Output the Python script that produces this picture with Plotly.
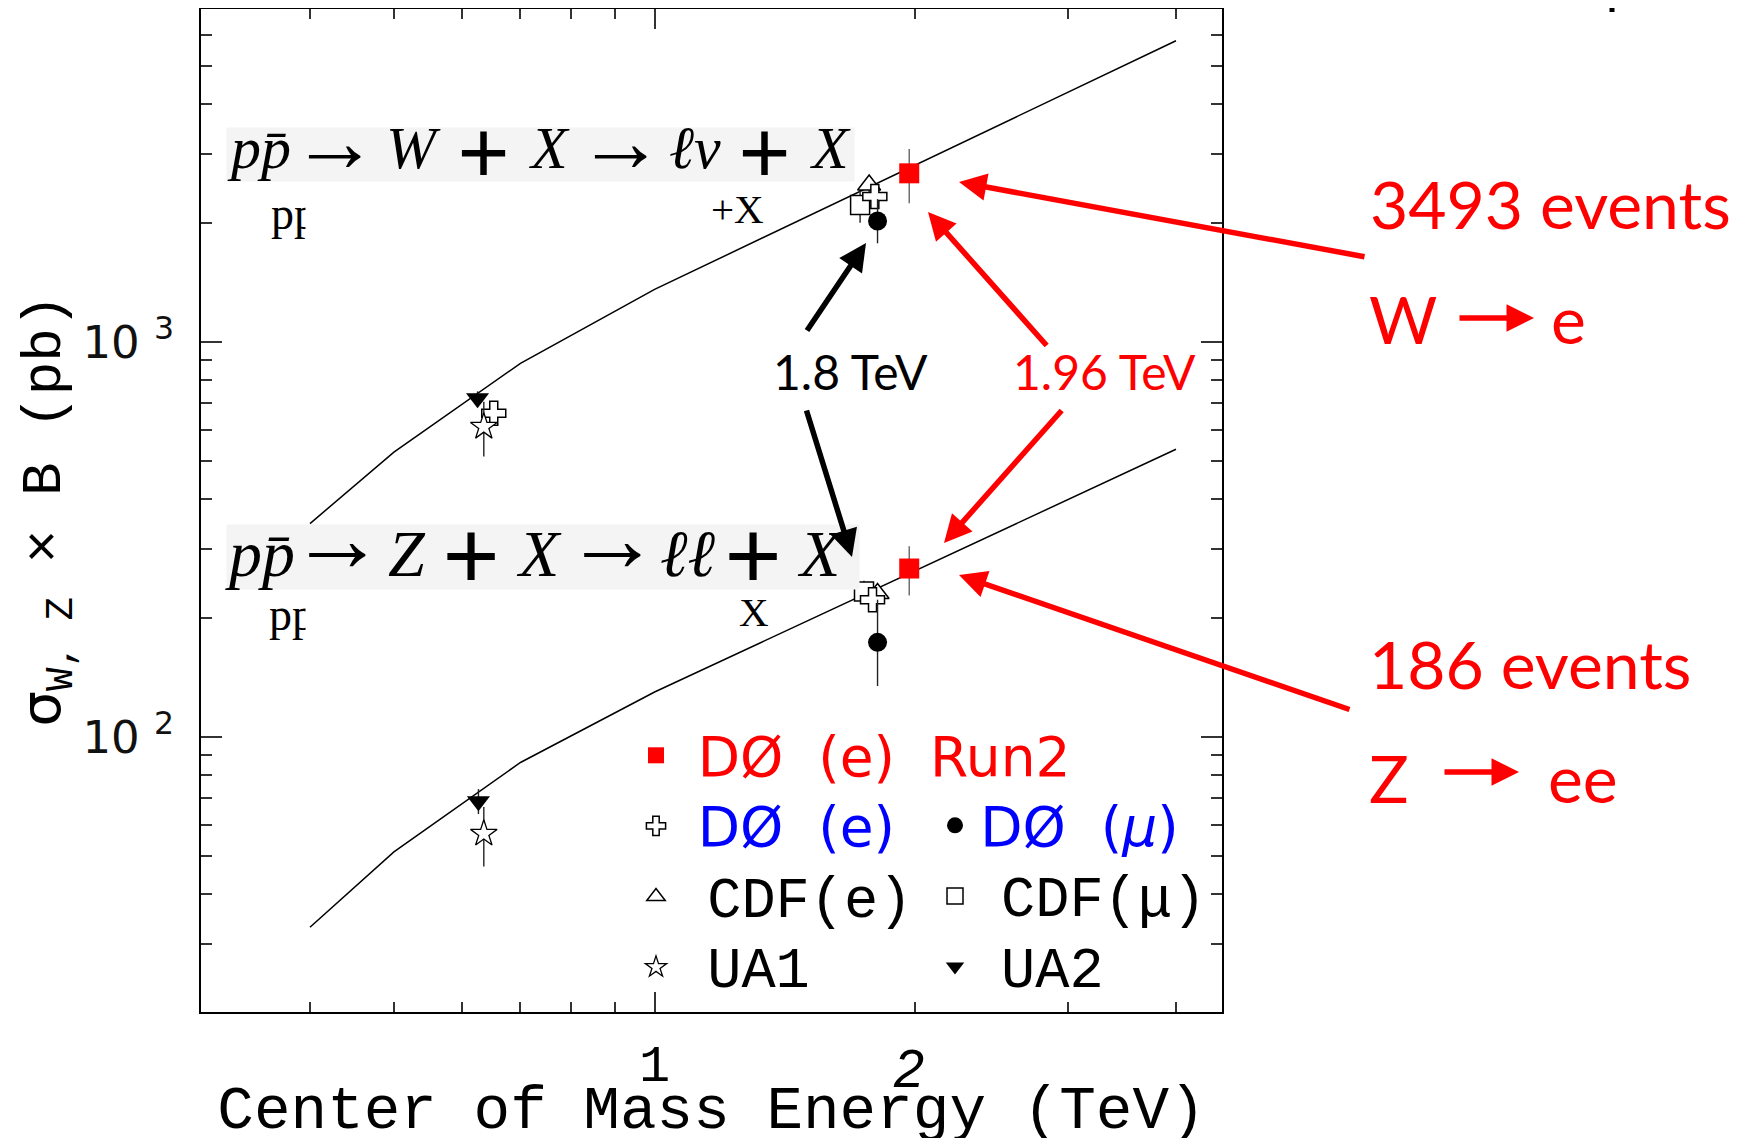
import plotly.graph_objects as go

# ---------------- data ----------------
theory_sqrt_s = [0.4, 0.5, 0.7, 1.0, 4.0]          # TeV
theory_w_pb = [347, 526, 883, 1359, 5790]
theory_z_pb = [33.0, 51.2, 86.2, 130, 535]

# each experiment: W point(s) then Z point
d0_run2_x = [1.968, 1.968]
d0_run2_y = [2673, 267]
d0_run2_up = [409, 37]
d0_run2_dn = [429, 39]

d0_e_x = [0.652, 1.796, 1.785]
d0_e_y = [660, 2334, 222.6]
d0_e_err = [0, 110, 12]

d0_mu_x = [1.809, 1.809]
d0_mu_y = [2024, 173.6]
d0_mu_up = [276, 49]
d0_mu_dn = [246, 39]

cdf_e_x = [1.769, 1.809]
cdf_e_y = [2497, 230.8]
cdf_e_err = [120, 12]

cdf_mu_x = [1.727, 1.745]
cdf_mu_y = [2223, 233.5]
cdf_mu_err = [220, 15]

ua1_x = [0.635, 0.635]
ua1_y = [610, 56.9]
ua1_up = [96, 9.6]
ua1_dn = [97, 9.9]

ua2_x = [0.6245, 0.626]
ua2_y = [720, 68.8]
ua2_err = [30, 5]

x_major = [1]
x_major_text = ["1"]
x_minor = [0.4, 0.5, 0.6, 0.7, 0.8, 0.9, 2, 3, 4]
y_major = [100, 1000]
y_major_text = ["10\u00a0<sup>2</sup>", "10\u00a0<sup>3</sup>"]
y_minor = [30, 40, 50, 60, 70, 80, 90, 200, 300, 400, 500, 600, 700, 800, 900,
           2000, 3000, 4000, 5000, 6000]

# process formula pieces
w_formula = ["<i>pp̄</i>", "→", "<i>W</i>", "+", "<i>X</i>", "→", "<i>ℓν</i>", "+", "<i>X</i>"]
z_formula = ["<i>pp̄</i>", "→", "<i>Z</i>", "+", "<i>X</i>", "→", "<i>ℓℓ</i>", "+", "<i>X</i>"]

# ---------------- layout geometry (screen pixels) ----------------
W, H = 1747, 1138
OFF = 8                      # page body margin
L, R, T, B = 201, 1222, 9, 1012
x_range = [-0.5238, 0.6552]
y_range = [1.3038, 3.8430]


def px(x):
    return (x - L) / (R - L)


def py(y):
    return (B - y) / (B - T)


RED = "#ff0000"
BLUE = "#0000ff"
MONO = "Liberation Mono, Courier New, monospace"
SANS = "DejaVu Sans, sans-serif"
SERIF = "Liberation Serif, DejaVu Serif, serif"
COMIC = "Comic Sans MS, Lato, sans-serif"
NB = "\u00a0"
HAIR = "\u200a"
EN = "\u2002"


def mono(t):
    return "<span style='font-family:Liberation Mono;font-size:57px'>" + t + "</span>"


def sans(t, col):
    return "<span style='color:" + col + ";font-size:55px'>" + t + "</span>"


fig = go.Figure()

# theory curves
for yv in (theory_w_pb, theory_z_pb):
    fig.add_trace(go.Scatter(x=theory_sqrt_s, y=yv, mode="lines",
                             line=dict(color="black", width=1.5),
                             showlegend=False, hoverinfo="skip"))


def err(arr, arrm=None, color="#222"):
    d = dict(type="data", array=arr, thickness=1.4, width=0, color=color, visible=True)
    if arrm is not None:
        d["symmetric"] = False
        d["arrayminus"] = arrm
    return d


fig.add_trace(go.Scatter(
    x=cdf_mu_x, y=cdf_mu_y, mode="markers", error_y=err(cdf_mu_err),
    marker=dict(symbol="square", size=19, color="white", line=dict(color="black", width=1.5)),
    name=EN + mono("CDF(μ)"), legend="legend2", legendrank=2))
fig.add_trace(go.Scatter(
    x=cdf_e_x, y=cdf_e_y, mode="markers", error_y=err(cdf_e_err),
    marker=dict(symbol="triangle-up", size=20, color="white", line=dict(color="black", width=1.5)),
    name=EN + HAIR + mono("CDF(e)"), legend="legend", legendrank=3))
fig.add_trace(go.Scatter(
    x=d0_e_x, y=d0_e_y, mode="markers", error_y=err(d0_e_err),
    marker=dict(symbol="cross", size=20, color="white", line=dict(color="black", width=1.5)),
    name=NB + HAIR + sans("DØ" + NB + NB + "(e)", BLUE), legend="legend", legendrank=2))
fig.add_trace(go.Scatter(
    x=d0_mu_x, y=d0_mu_y, mode="markers", error_y=err(d0_mu_up, d0_mu_dn),
    marker=dict(symbol="circle", size=19, color="black"),
    name=HAIR + sans("DØ" + NB + NB + "(<i>μ</i>)", BLUE), legend="legend2", legendrank=1))
fig.add_trace(go.Scatter(
    x=ua1_x, y=ua1_y, mode="markers", error_y=err(ua1_up, ua1_dn),
    marker=dict(symbol="star", size=20, color="white", line=dict(color="black", width=1.3)),
    name=EN + HAIR + mono("UA1"), legend="legend", legendrank=4))
fig.add_trace(go.Scatter(
    x=ua2_x, y=ua2_y, mode="markers", error_y=err(ua2_err),
    marker=dict(symbol="triangle-down", size=20, color="black"),
    name=EN + mono("UA2"), legend="legend2", legendrank=3))
fig.add_trace(go.Scatter(
    x=d0_run2_x, y=d0_run2_y, mode="markers", error_y=err(d0_run2_up, d0_run2_dn, "#666"),
    marker=dict(symbol="square", size=20, color=RED),
    name=NB + HAIR + sans("DØ" + NB + NB + "(e)" + NB + NB + "Run2", RED),
    legend="legend", legendrank=1))

ann = []

# partially hidden original labels
for txt, cx, cy, sz in (("pp", 269, 213, 46), ("+X", 709, 209, 41),
                        ("pp", 267, 614, 46), ("+X", 714, 612, 41)):
    ann.append(dict(text=txt, x=px(cx), y=py(cy), xref="paper", yref="paper",
                    xanchor="left", yanchor="middle", showarrow=False,
                    font=dict(family=SERIF, size=sz, color="black")))
# white patches hiding them
for x0, x1, y0, y1 in ((305, 705, 186, 238), (305, 737, 588, 642)):
    ann.append(dict(text="", x=px(x0), y=py(y0), xref="paper", yref="paper",
                    xanchor="left", yanchor="top", showarrow=False, width=x1 - x0,
                    height=y1 - y0, bgcolor="white", borderpad=0))

# process formulas: light box + individually placed symbols
# (symbols, box, x centres, letter centre y, font size, plus y, arrow y)
formulas = [
    (w_formula, (226, 853, 127, 180), [259, 334, 413, 483, 549, 620, 695, 764, 830], 148, 60, 152, 141),
    (z_formula, (226, 858, 524, 588), [260, 337, 407, 471, 539, 612, 687, 753, 820], 553, 66, 555, 539),
]
for pieces, (bx0, bx1, by0, by1), xs, cy, sz, plus_y, arrow_y in formulas:
    ann.append(dict(text="", x=px(bx0), y=py(by0), xref="paper", yref="paper",
                    xanchor="left", yanchor="top", showarrow=False, width=bx1 - bx0,
                    height=by1 - by0, bgcolor="#f4f4f4", borderpad=0))
    for piece, cx in zip(pieces, xs):
        if piece == "+":
            txt, fs, yy = "<b>+</b>", int(sz * 1.55), plus_y
        elif piece == "→":
            txt, fs, yy = "→", int(sz * 1.45), arrow_y
        else:
            txt, fs, yy = piece, sz, cy
        ann.append(dict(text=txt, x=px(cx), y=py(yy), xref="paper", yref="paper",
                        xanchor="center", yanchor="middle", showarrow=False,
                        font=dict(family=SERIF, size=fs, color="black")))

# arrows (tip, tail, colour)
arrows = [
    ((866, 243), (806, 332), "black"),
    ((852, 557), (806, 409), "black"),
    ((928, 212), (1048, 347), RED),
    ((944, 543), (1063, 409), RED),
    ((959, 182), (1366, 257), RED),
    ((959, 575), (1351, 710), RED),
    ((1534, 318), (1458, 318), RED),
    ((1519, 772), (1443, 772), RED),
]
for (tx, ty), (sx, sy), col in arrows:
    ann.append(dict(text="", x=px(tx), y=py(ty), xref="paper", yref="paper",
                    ax=sx - tx, ay=sy - ty, showarrow=True, arrowhead=2,
                    arrowsize=1.0, arrowwidth=5.5, arrowcolor=col, standoff=0))

# labels
labels = [
    ("1.8 TeV", 850, 371, "black", 48, "center"),
    ("1.96 TeV", 1104, 371, RED, 48, "center"),
    ("3493 events", 1368, 203, RED, 66, "left"),
    ("W", 1367, 318, RED, 66, "left"),
    ("e", 1549, 318, RED, 66, "left"),
    ("186 events", 1367, 663, RED, 66, "left"),
    ("Z", 1367, 777, RED, 66, "left"),
    ("ee", 1546, 777, RED, 66, "left"),
]
for txt, cx, cy, col, sz, anc in labels:
    ann.append(dict(text=txt, x=px(cx), y=py(cy), xref="paper", yref="paper",
                    xanchor=anc, yanchor="middle", showarrow=False,
                    font=dict(family=COMIC, size=sz, color=col)))

# hand-written "2" tick label
ann.append(dict(text="<i>2</i>", x=px(908), y=py(1068), xref="paper", yref="paper",
                xanchor="center", yanchor="middle", showarrow=False,
                font=dict(family="Liberation Sans, Arial, sans-serif", size=54, color="black")))

fig.update_layout(
    width=W, height=H, autosize=False,
    margin=dict(l=L - OFF, r=W - (R - OFF), t=T - OFF, b=H - (B - OFF), autoexpand=False),
    paper_bgcolor="white", plot_bgcolor="white",
    annotations=ann,
    shapes=[dict(type="line", xref="paper", yref="paper", x0=px(1612), x1=px(1612),
                 y0=py(0), y1=py(12), line=dict(color="black", width=5))],
    showlegend=True,
    legend=dict(x=px(636), y=py(715), xanchor="left", yanchor="top",
                bgcolor="rgba(0,0,0,0)", borderwidth=0,
                font=dict(family=SANS, size=52, color="black"),
                itemsizing="trace", traceorder="normal"),
    legend2=dict(x=px(935), y=py(785), xanchor="left", yanchor="top",
                 bgcolor="rgba(0,0,0,0)", borderwidth=0,
                 font=dict(family=SANS, size=52, color="black"),
                 itemsizing="trace", traceorder="normal"),
)

fig.update_xaxes(
    type="log", range=x_range, showgrid=False, zeroline=False, automargin=False,
    showline=True, linecolor="black", linewidth=2, mirror="ticks",
    ticks="inside", ticklen=20, tickwidth=1.5, tickcolor="#333",
    tickvals=x_major, ticktext=x_major_text, ticklabelstandoff=5,
    tickfont=dict(family=MONO, size=52, color="black"),
    minor=dict(tickvals=x_minor, ticks="inside", ticklen=10, tickwidth=1.5, tickcolor="#333"),
    title=dict(text="Center of Mass Energy (TeV)", standoff=1,
               font=dict(family=MONO, size=61, color="black")),
)
fig.update_yaxes(
    type="log", range=y_range, showgrid=False, zeroline=False, automargin=False,
    showline=True, linecolor="black", linewidth=2, mirror="ticks",
    ticks="inside", ticklen=21, tickwidth=1.5, tickcolor="#333",
    tickvals=y_major, ticktext=y_major_text, ticklabelstandoff=16,
    tickfont=dict(family=SANS, size=45, color="#111"),
    minor=dict(tickvals=y_minor, ticks="inside", ticklen=11, tickwidth=1.5, tickcolor="#333"),
    title=dict(text="<span style='font-family:DejaVu Sans'>σ</span><sub>W, Z</sub> × B (pb)",
               standoff=12, font=dict(family=MONO, size=56, color="black")),
)

fig.write_html("out.html")
